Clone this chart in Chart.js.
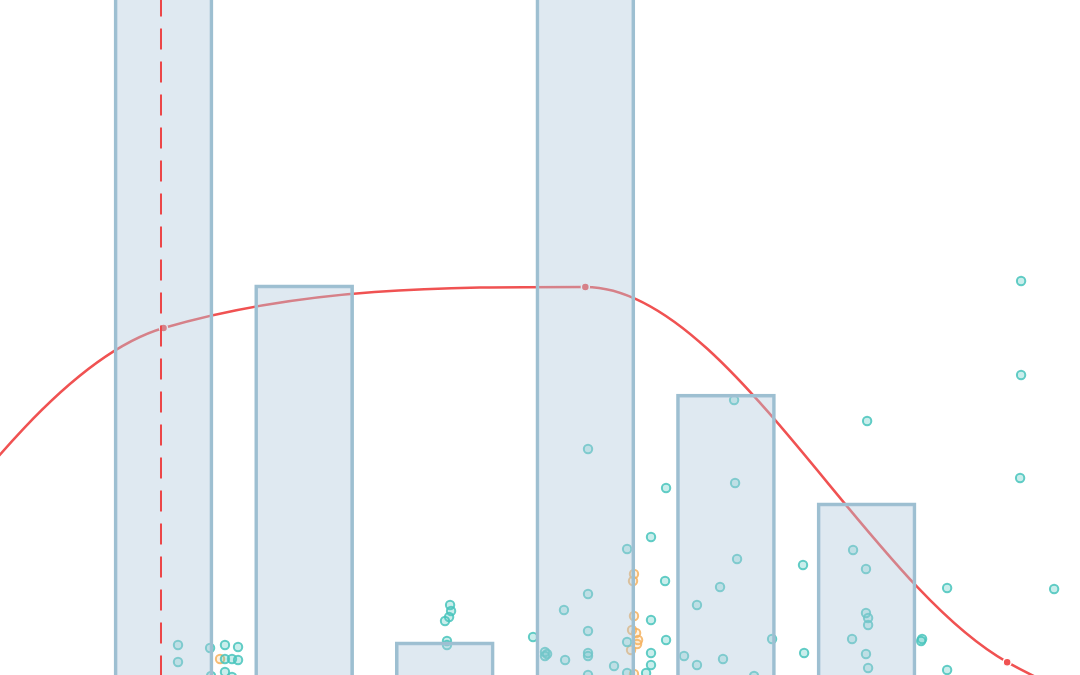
<!DOCTYPE html>
<html>
<head>
<meta charset="utf-8">
<script src="https://cdn.jsdelivr.net/npm/chart.js@4.4.1/dist/chart.umd.min.js"></script>
<style>
  html, body { margin: 0; padding: 0; background: #fff; }
  #wrap { width: 1080px; height: 675px; position: relative; }
</style>
</head>
<body>
<div id="wrap"><canvas id="chart"></canvas></div>
<script>
// bins (bar centres) and their heights
const bins = [0, 1, 2, 3, 4, 5, 6];
const binHeights = [115, 57.8, 4.9, 115, 41.6, 25.5, 0];

// smooth curve
const curveX = [-3, 0, 3, 6, 9];
const curveY = [-15, 51.4, 57.5, 1.9, -12.7];

// dashed reference line
const refX = -0.018;

// teal observations
const tealX = [0.103, 0.103, 0.331, 0.437, 0.530, 0.437, 0.487, 0.530, 0.437, 0.338, 0.487,
  2.038, 2.045, 2.031, 2.002, 2.016, 2.016,
  3.467, 3.297, 3.567, 3.019, 2.848, 3.467, 3.794, 3.958, 2.628, 3.019, 3.297, 3.574,
  2.713, 2.728, 2.713, 3.019, 3.019, 2.856, 3.467, 3.204, 3.467, 3.702, 3.794, 3.979,
  3.019, 3.297, 3.432, 3.019, 3.574, 4.058, 4.065, 4.079, 4.328, 4.200, 4.548, 4.556,
  5.004, 4.904, 4.996, 4.996, 5.011, 5.011, 4.897, 4.996, 5.011, 5.395, 5.388,
  5.573, 5.573, 6.334, 6.099, 6.099, 6.092];
const tealY = [4.44, 1.93, 4.00, 4.44, 4.15, 2.37, 2.37, 2.22, 0.44, -0.15, -0.30,
  10.37, 9.48, 8.59, 8.00, 5.04, 4.44,
  20.44, 18.67, 13.93, 12.00, 9.63, 8.15, 10.37, 13.04, 5.63, 6.52, 4.89, 5.19,
  3.41, 3.11, 2.81, 3.26, 2.81, 2.22, 3.26, 1.33, 1.48, 2.81, 1.48, 2.37,
  0.00, 0.30, 0.30, 33.48, 27.70, 40.74, 28.44, 17.19, 5.33, -0.15, 16.30, 3.26,
  37.63, 18.52, 15.70, 9.19, 8.44, 7.41, 5.33, 3.11, 1.04, 5.33, 5.04,
  12.89, 0.74, 12.74, 58.37, 44.44, 29.19];

// orange observations
const orangeX = [0.402, 3.346, 3.339, 3.346, 3.332, 3.361, 3.375, 3.368, 3.325, 3.346];
const orangeY = [2.37, 14.96, 13.93, 8.74, 6.67, 6.22, 5.19, 4.59, 3.70, 0.15];

const pts = (xs, ys) => xs.map((x, i) => ({ x: x, y: ys[i] }));

new Chart(document.getElementById("chart"), {
  type: "bar",
  data: {
    datasets: [
      {
        type: "line",
        data: [{ x: refX, y: -10 }, { x: refX, y: 130 }],
        borderColor: "#ec4648",
        borderWidth: 2,
        borderDash: [21, 12],
        pointRadius: 0,
        order: 0,
      },
      {
        data: pts(bins, binHeights),
        backgroundColor: "rgba(176,200,220,0.4)",
        borderColor: "#9dbfd1",
        borderWidth: 3,
        barThickness: 99,
        order: 1,
      },
      {
        type: "scatter",
        data: pts(tealX, tealY),
        backgroundColor: "rgba(80,200,192,0.3)",
        borderColor: "rgba(72,196,188,0.85)",
        borderWidth: 2,
        pointRadius: 4.2,
        order: 2,
      },
      {
        type: "scatter",
        data: pts(orangeX, orangeY),
        backgroundColor: "rgba(248,190,110,0.2)",
        borderColor: "rgba(245,178,95,0.85)",
        borderWidth: 2,
        pointRadius: 4.2,
        order: 2,
      },
      {
        type: "line",
        data: pts(curveX, curveY),
        borderColor: "#f05252",
        borderWidth: 2.5,
        cubicInterpolationMode: "monotone",
        capBezierPoints: false,
        pointRadius: 4,
        pointBackgroundColor: "#f05252",
        pointBorderColor: "#ffffff",
        pointBorderWidth: 1.5,
        order: 3,
      },
    ],
  },
  options: {
    responsive: true,
    maintainAspectRatio: false,
    animation: false,
    layout: { padding: 0, autoPadding: false },
    plugins: { legend: { display: false }, tooltip: { enabled: false } },
    scales: {
      x: { type: "linear", min: -1.163, max: 6.518, offset: false, display: false },
      y: { type: "linear", min: 0, max: 100, display: false },
    },
  },
});
</script>
</body>
</html>
